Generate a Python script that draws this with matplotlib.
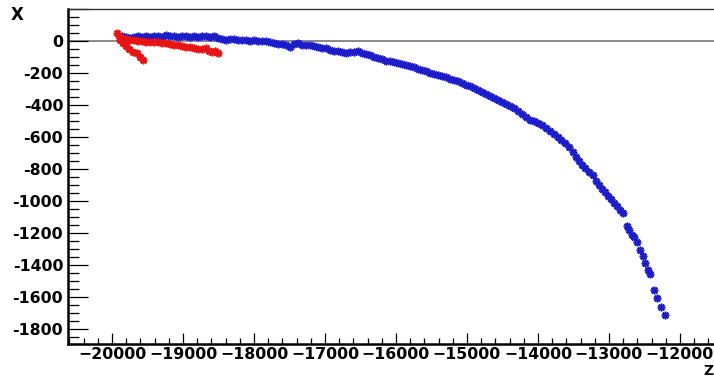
import numpy as np
import matplotlib
matplotlib.use('Agg')
import matplotlib.pyplot as plt
from matplotlib.ticker import MultipleLocator, FuncFormatter

# track points, z position vs x position
blue_z = [-19859, -19803, -19746, -19690, -19634, -19577, -19521, -19465, -19408, -19352,
          -19296, -19239, -19183, -19127, -19070, -19014, -18958, -18901, -18845, -18789,
          -18732, -18676, -18620, -18563, -18507, -18451, -18394, -18338, -18282, -18225,
          -18169, -18113, -18056, -18000, -17944, -17887, -17831, -17775, -17718, -17662,
          -17606, -17549, -17493, -17437, -17380, -17324, -17268, -17211, -17155, -17099,
          -17042, -16986, -16930, -16873, -16817, -16761, -16704, -16648, -16592, -16535,
          -16479, -16423, -16366, -16310, -16254, -16197, -16141, -16085, -16028, -15972,
          -15916, -15859, -15803, -15746, -15690, -15634, -15577, -15521, -15465, -15408,
          -15352, -15296, -15239, -15183, -15127, -15070, -15014, -14958, -14901, -14845,
          -14789, -14732, -14676, -14620, -14563, -14507, -14451, -14394, -14338, -14282,
          -14225, -14169, -14113, -14056, -14000, -13944, -13887, -13831, -13775, -13718,
          -13676, -13620, -13563, -13507, -13465, -13422, -13380, -13338, -13281, -13225,
          -13183, -13141, -13098, -13056, -13014, -12972, -12929, -12887, -12845, -12803,
          -12746, -12718, -12676, -12648, -12605, -12563, -12521, -12493, -12450, -12422,
          -12366, -12324, -12267, -12211]
blue_x = [31, 25, 19, 25, 31, 25, 31, 25, 31, 31,
          25, 37, 31, 31, 25, 31, 31, 25, 31, 25,
          31, 31, 25, 31, 19, 12, 6, 12, 12, 6,
          6, 6, 0, 6, 0, 0, 0, -6, -12, -19,
          -19, -25, -37, -19, -12, -25, -25, -25, -31, -37,
          -44, -44, -56, -62, -62, -69, -75, -69, -69, -62,
          -75, -81, -87, -100, -106, -112, -125, -125, -131, -137,
          -144, -150, -156, -162, -175, -181, -187, -200, -206, -212,
          -219, -225, -237, -244, -250, -262, -275, -281, -294, -306,
          -319, -331, -344, -356, -369, -381, -394, -406, -419, -437,
          -456, -475, -494, -500, -512, -525, -544, -562, -581, -600,
          -619, -637, -662, -694, -725, -750, -775, -794, -819, -837,
          -875, -900, -925, -944, -969, -987, -1012, -1031, -1056, -1075,
          -1156, -1181, -1212, -1225, -1256, -1306, -1344, -1387, -1431, -1456,
          -1556, -1606, -1662, -1712]

red_z = [-19930, -19901, -19873, -19831, -19789, -19747, -19690, -19634, -19578, -19521,
         -19465, -19409, -19352, -19296, -19240, -19183, -19127, -19070, -19014, -18958,
         -18902, -18845, -18789, -18733, -18676, -18634, -18592, -18550, -18507,
         # short branch dropping away near the start
         -19887, -19845, -19803, -19761, -19704, -19648, -19606, -19563]
red_x = [50, 31, 19, 12, 12, 6, 6, 0, 0, -6,
         -6, -6, -6, -12, -12, -19, -25, -25, -31, -37,
         -37, -44, -50, -50, -44, -62, -69, -62, -75,
         6, -12, -31, -50, -69, -75, -100, -119]

Z_RANGE = (-20620, -11520)
X_RANGE = (-1894, 200)

# %%
fig = plt.figure(figsize=(7.14, 3.79), dpi=100)
ax = fig.add_axes([68 / 714, 1 - 344 / 379, 1 - 68 / 714, (344 - 9) / 379])

star = (8, 2, 0)
ax.plot(blue_z, blue_x, ls='none', marker=star, ms=5.5, mew=1.2, color='#1c1cc8', zorder=3)
ax.plot(red_z, red_x, ls='none', marker=star, ms=5.5, mew=1.2, color='#e81414', zorder=4)
ax.axhline(0, color='#777777', lw=1.2, zorder=1)

ax.set_xlim(*Z_RANGE)
ax.set_ylim(*X_RANGE)

ax.xaxis.set_major_locator(MultipleLocator(1000))
ax.xaxis.set_minor_locator(MultipleLocator(200))
ax.yaxis.set_major_locator(MultipleLocator(200))
ax.yaxis.set_minor_locator(MultipleLocator(50))
# no label on the tick that sits on the top frame
ax.yaxis.set_major_formatter(FuncFormatter(lambda v, pos: '' if v > 100 else '%d' % v))

ax.spines['right'].set_visible(False)
ax.spines['left'].set_linewidth(1.8)
ax.spines['bottom'].set_linewidth(1.8)
ax.spines['top'].set_linewidth(1.0)
ax.spines['top'].set_color('#333333')

ax.tick_params(axis='y', which='major', direction='in', length=14.5, width=0.9, pad=3.5)
ax.tick_params(axis='y', which='minor', direction='in', length=8, width=0.9)
ax.tick_params(axis='x', which='major', direction='in', length=8, width=0.9, pad=2.5)
ax.tick_params(axis='x', which='minor', direction='in', length=4.3, width=0.9)

for lab in ax.get_xticklabels() + ax.get_yticklabels():
    lab.set_fontfamily('DejaVu Sans')
    lab.set_fontweight('bold')
    lab.set_fontsize(11.3)

# axis titles sit at the corners
fig.text(17.5 / 714, 1 - 15 / 379, 'X', ha='center', va='center',
         fontsize=12, fontweight='bold', family='DejaVu Sans')
fig.text(703 / 714, 1 - 378 / 379, 'Z', ha='left', va='bottom',
         fontsize=10, fontweight='bold', family='DejaVu Sans')

fig.savefig('out.png', dpi=100)
